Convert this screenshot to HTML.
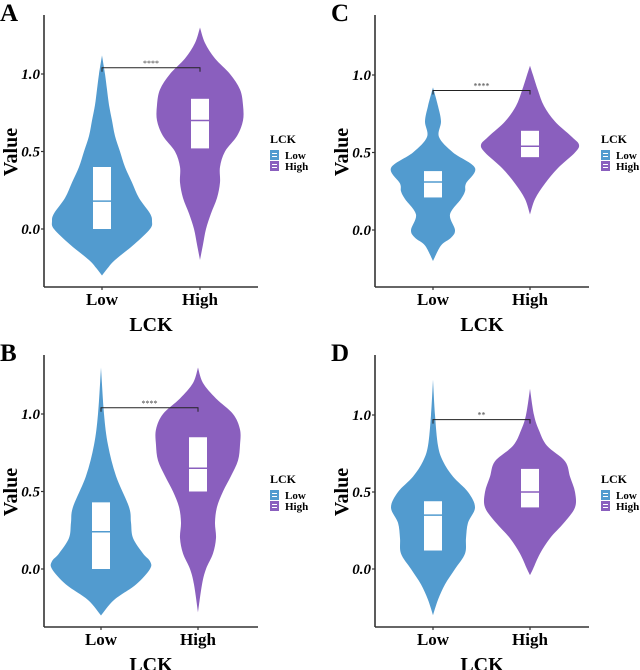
<!DOCTYPE html>
<html><head><meta charset="utf-8"><style>
body{margin:0;background:#fff;}
svg{display:block;font-family:"Liberation Serif",serif;}
</style></head><body>
<svg id="c" width="640" height="670" viewBox="0 0 640 670"></svg>
<script>
const categories=["Low","High"];
const tickValues=[0.0,0.5,1.0];
const tickLabels=["0.0","0.5","1.0"];
const panelLetters=["A","C","B","D"];
const sigLabels=["****","****","****","**"];
const sigY=[1.04,0.90,1.04,0.97];
// violin density profiles (value grid + half-width)
const aLowY=[-0.3,-0.25,-0.2,-0.1,0,0.05,0.1,0.2,0.3,0.4,0.5,0.6,0.7,0.8,0.9,1.0,1.12];
const aLowD=[0,6,13,32,48,50,48,37,30,23,18,13,10,7,5,3,0];
const aHighY=[-0.2,-0.1,0,0.1,0.2,0.3,0.4,0.5,0.6,0.7,0.8,0.9,1.0,1.1,1.2,1.3];
const aHighD=[0,3,6,11,17,20,20,25,37,43,43,40,30,15,5,0];
const cLowY=[-0.2,-0.1,-0.05,0,0.1,0.2,0.25,0.3,0.4,0.5,0.6,0.7,0.8,0.92];
const cLowD=[0,8,18,22,17,28,32,33,42,20,6,8,5,0];
const cHighY=[0.1,0.2,0.3,0.4,0.5,0.55,0.6,0.7,0.8,0.9,1.0,1.06];
const cHighD=[0,5,15,28,45,49,42,25,14,8,3,0];
const bLowY=[-0.3,-0.2,-0.1,0,0.05,0.1,0.2,0.3,0.4,0.6,0.8,1.0,1.3];
const bLowD=[0,13,35,49,49,42,32,30,28,15,7,3,0];
const bHighY=[-0.28,-0.1,0,0.1,0.2,0.3,0.4,0.5,0.6,0.7,0.8,0.9,1.0,1.1,1.2,1.3];
const bHighD=[0,4,8,15,18,17,19,25,33,40,42,42,35,18,5,0];
const dLowY=[-0.3,-0.2,-0.1,0,0.1,0.2,0.3,0.4,0.5,0.6,0.7,0.8,1.0,1.23];
const dLowD=[0,5,12,22,32,33,35,42,35,20,10,5,2,0];
const dHighY=[-0.04,0,0.1,0.2,0.3,0.4,0.5,0.6,0.7,0.8,0.9,1.0,1.17];
const dHighD=[0,3,10,20,34,45,45,40,35,17,9,4,0];
// boxes: [lower, median, upper]
const aLowBox=[0,0.18,0.40], aHighBox=[0.52,0.70,0.84];
const cLowBox=[0.21,0.31,0.38], cHighBox=[0.47,0.54,0.64];
const bLowBox=[0,0.24,0.43], bHighBox=[0.50,0.65,0.85];
const dLowBox=[0.12,0.35,0.44], dHighBox=[0.40,0.50,0.65];
const colors=["#529bcf","#8a5fbe"];

const NS="http://www.w3.org/2000/svg";
const svg=document.getElementById("c");
function mk(tag,attrs,parent,txt){const e=document.createElementNS(NS,tag);for(const k in attrs)e.setAttribute(k,attrs[k]);if(txt!==undefined)e.textContent=txt;(parent||svg).appendChild(e);return e;}
function smooth(pts){let d="M"+pts[0][0]+","+pts[0][1];for(let i=0;i<pts.length-1;i++){const p0=pts[Math.max(0,i-1)],p1=pts[i],p2=pts[i+1],p3=pts[Math.min(pts.length-1,i+2)];const c1=[p1[0]+(p2[0]-p0[0])/6,p1[1]+(p2[1]-p0[1])/6],c2=[p2[0]-(p3[0]-p1[0])/6,p2[1]-(p3[1]-p1[1])/6];d+="C"+c1[0]+","+c1[1]+" "+c2[0]+","+c2[1]+" "+p2[0]+","+p2[1];}return d;}
function violinPath(cx,ys,ds,yS){const right=ys.map((v,i)=>[cx+ds[i],yS(v)]);const left=ys.map((v,i)=>[cx-ds[i],yS(v)]).reverse();const sl=smooth(left);return smooth(right)+" L"+left[0][0]+","+left[0][1]+sl.slice(sl.indexOf("C"))+"Z";}

function panel(ox,oy,y0,y1,cx0,cx1,idx,viols,boxes){
  const g=mk("g",{},svg);
  
  
  const ysc=v=>y0-v*(y0-y1);
  const xs=[cx0,cx1];
  const lt=mk("text",{x:ox,y:oy+21,"font-size":25,"font-weight":"bold"},g,panelLetters[idx]);
  
  viols.forEach((vv,i)=>{
    const p=mk("path",{d:violinPath(xs[i],vv[0],vv[1],ysc),fill:colors[i]},g);
    
    const b=boxes[i];
    const r=mk("rect",{x:xs[i]-9,y:ysc(b[2]),width:18,height:ysc(b[0])-ysc(b[2]),fill:"#fff"},g);
    
    const m=mk("line",{x1:xs[i]-9,x2:xs[i]+9,y1:ysc(b[1]),y2:ysc(b[1]),stroke:colors[i],"stroke-width":1.5},g);
    
  });
  const ax=ox+44, bot=oy+287;
  const ya=mk("line",{x1:ax,x2:ax,y1:oy+15,y2:bot,stroke:"#333","stroke-width":1.6},g);
  
  const xa=mk("line",{x1:ax,x2:ox+258,y1:bot,y2:bot,stroke:"#333","stroke-width":1.6},g);
  
  tickValues.forEach((t,i)=>{
    mk("line",{x1:ax-3,x2:ax,y1:ysc(t),y2:ysc(t),stroke:"#333","stroke-width":1.2},g);
    const tl=mk("text",{x:ax-4,y:ysc(t)+5,"font-size":15,"font-weight":"bold","font-style":"italic","text-anchor":"end"},g,tickLabels[i]);
    
  });
  categories.forEach((c,i)=>{
    mk("line",{x1:xs[i],x2:xs[i],y1:bot,y2:bot+3,stroke:"#333","stroke-width":1.2},g);
    const xl=mk("text",{x:xs[i],y:bot+18,"font-size":17,"font-weight":"bold","text-anchor":"middle"},g,c);
    
  });
  const xt=mk("text",{x:(ax+ox+258)/2,y:oy+331,"font-size":20,"font-weight":"bold","text-anchor":"middle"},g,"LCK");
  
  const yt=mk("text",{x:0,y:0,"font-size":20,"font-weight":"bold","text-anchor":"middle",transform:"translate("+(ox+17)+","+(oy+152)+") rotate(-90)"},g,"Value");
  
  const sy=ysc(sigY[idx]);
  const br=mk("path",{d:"M"+xs[0]+","+(sy+4)+"V"+sy+"H"+xs[1]+"V"+(sy+4),fill:"none",stroke:"#222","stroke-width":1},g);
  
  const st=mk("text",{x:(xs[0]+xs[1])/2,y:sy-2,"font-size":8,"text-anchor":"middle",fill:"#444"},g,sigLabels[idx]);
  
  const lg=mk("g",{},g);
  
  mk("text",{x:ox+270,y:oy+143,"font-size":12,"font-weight":"bold"},lg,"LCK");
  categories.forEach((c,i)=>{
    const ky=oy+150+i*11;
    const kr=mk("rect",{x:ox+270,y:ky,width:9,height:10,fill:colors[i]},lg);
    
    mk("line",{x1:ox+272,x2:ox+277,y1:ky+3.5,y2:ky+3.5,stroke:"#fff","stroke-width":1},lg);
    mk("line",{x1:ox+272,x2:ox+277,y1:ky+6.5,y2:ky+6.5,stroke:"#fff","stroke-width":1},lg);
    const lt2=mk("text",{x:ox+285,y:ky+9,"font-size":11,"font-weight":"bold"},lg,c);
    
  });
}
panel(0,0,229,74,102,200,0,[[aLowY,aLowD],[aHighY,aHighD]],[aLowBox,aHighBox]);
panel(331,0,230,75,433,530,1,[[cLowY,cLowD],[cHighY,cHighD]],[cLowBox,cHighBox]);
panel(0,340,569,414,101,198,2,[[bLowY,bLowD],[bHighY,bHighD]],[bLowBox,bHighBox]);
panel(331,340,569,415,433,530,3,[[dLowY,dLowD],[dHighY,dHighD]],[dLowBox,dHighBox]);
</script>
</body></html>
